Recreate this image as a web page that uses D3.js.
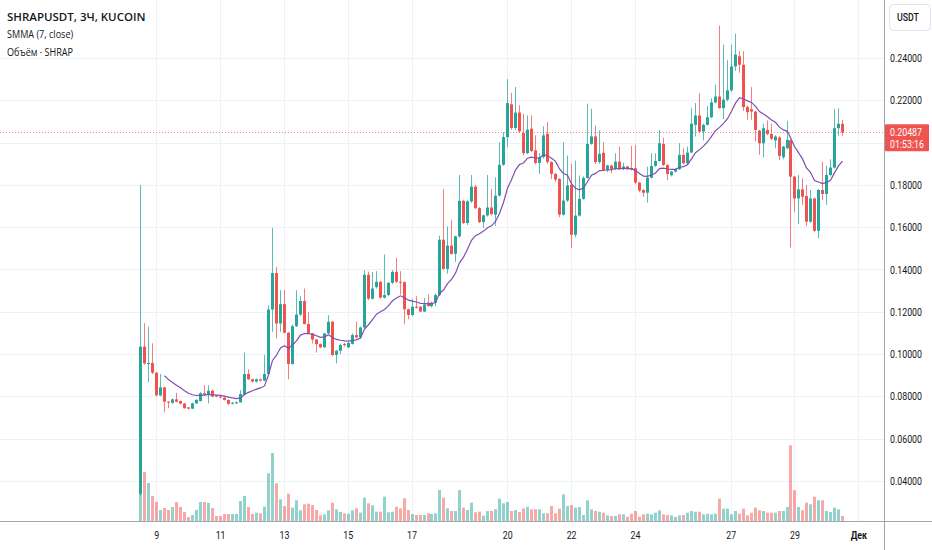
<!DOCTYPE html>
<html><head><meta charset="utf-8">
<script src="https://cdn.jsdelivr.net/npm/d3@7/dist/d3.min.js"></script>
<style>
html,body{margin:0;padding:0;background:#fff;}
svg{display:block;}
</style></head><body>
<svg id="chart" width="932" height="550"></svg>
<script>
const opens = [0.0340,0.1035,0.0956,0.0958,0.0912,0.0805,0.0843,0.0775,0.0770,0.0786,0.0778,0.0766,0.0748,0.0742,0.0767,0.0778,0.0815,0.0808,0.0827,0.0805,0.0799,0.0794,0.0783,0.0765,0.0767,0.0772,0.0808,0.0906,0.0881,0.0870,
0.0881,0.0875,0.0906,0.1211,0.1383,0.1145,0.1236,0.1101,0.0953,0.1132,0.1187,0.1251,0.1142,0.1098,0.1069,0.1047,0.1032,0.1098,0.1153,0.0996,0.1016,0.1048,0.1032,0.1048,0.1090,0.1079,0.1126,0.1375,0.1262,0.1317,
0.1342,0.1267,0.1279,0.1337,0.1389,0.1342,0.1340,0.1212,0.1185,0.1224,0.1224,0.1201,0.1243,0.1227,0.1243,0.1279,0.1541,0.1403,0.1513,0.1474,0.1557,0.1725,0.1620,0.1722,0.1792,0.1690,0.1624,0.1656,0.1693,0.1659,
0.1749,0.1895,0.2026,0.2181,0.2069,0.2142,0.2045,0.1950,0.2066,0.1963,0.1904,0.1931,0.2042,0.1908,0.1852,0.1828,0.1659,0.1726,0.1801,0.1564,0.1655,0.1734,0.1833,0.1994,0.2029,0.1908,0.1952,0.1871,0.1892,0.1875,
0.1910,0.1874,0.1887,0.1880,0.1879,0.1811,0.1776,0.1763,0.1834,0.1890,0.1913,0.1994,0.1894,0.1846,0.1863,0.1874,0.1942,0.1902,0.1953,0.2084,0.2128,0.2052,0.2084,0.2120,0.2190,0.2218,0.2163,0.2203,0.2247,0.2360,
0.2408,0.2368,0.2168,0.2158,0.2147,0.2057,0.1997,0.2060,0.2041,0.2010,0.2024,0.1931,0.1973,0.2010,0.1839,0.1736,0.1779,0.1747,0.1626,0.1736,0.1583,0.1776,0.1757,0.1847,0.1882,0.2068,0.2089];
const highs = [0.1800,0.1146,0.1130,0.1051,0.0915,0.0906,0.0846,0.0778,0.0790,0.0817,0.0781,0.0770,0.0750,0.0770,0.0788,0.0820,0.0853,0.0853,0.0832,0.0808,0.0802,0.0797,0.0786,0.0774,0.0776,0.0830,0.1007,0.0928,0.0884,0.0885,
0.0884,0.0996,0.1231,0.1597,0.1412,0.1302,0.1302,0.1105,0.1140,0.1302,0.1273,0.1310,0.1200,0.1100,0.1072,0.1050,0.1100,0.1184,0.1156,0.1020,0.1050,0.1052,0.1058,0.1098,0.1153,0.1130,0.1396,0.1390,0.1388,0.1392,
0.1345,0.1471,0.1340,0.1397,0.1455,0.1392,0.1345,0.1215,0.1260,0.1274,0.1228,0.1265,0.1282,0.1248,0.1285,0.1560,0.1781,0.1604,0.1635,0.1560,0.1847,0.1730,0.1730,0.1847,0.1800,0.1695,0.1660,0.1847,0.1780,0.1836,
0.2002,0.2050,0.2300,0.2235,0.2263,0.2177,0.2137,0.2129,0.2129,0.2034,0.1950,0.2077,0.2097,0.1912,0.1856,0.1832,0.2002,0.1939,0.1900,0.1915,0.1845,0.1840,0.2184,0.2160,0.2081,0.2058,0.2002,0.1895,0.1895,0.1950,
0.1981,0.1905,0.1890,0.1984,0.1989,0.1815,0.1780,0.1886,0.1950,0.1950,0.2060,0.2023,0.1897,0.1866,0.1878,0.1997,0.1973,0.1981,0.2163,0.2187,0.2234,0.2090,0.2174,0.2210,0.2274,0.2553,0.2463,0.2390,0.2463,0.2515,
0.2432,0.2432,0.2175,0.2263,0.2150,0.2060,0.2089,0.2105,0.2089,0.2035,0.2030,0.1985,0.2103,0.2015,0.1842,0.1847,0.1831,0.1800,0.1776,0.1740,0.1780,0.1910,0.1890,0.1921,0.2158,0.2163,0.2108];
const lows = [0.0330,0.0950,0.0867,0.0905,0.0800,0.0800,0.0725,0.0744,0.0765,0.0772,0.0762,0.0742,0.0738,0.0740,0.0764,0.0776,0.0805,0.0767,0.0796,0.0796,0.0791,0.0780,0.0760,0.0762,0.0764,0.0770,0.0805,0.0878,0.0866,0.0866,
0.0870,0.0872,0.0900,0.1105,0.1074,0.1105,0.1098,0.0881,0.0950,0.1128,0.1180,0.1140,0.1095,0.1050,0.1007,0.1028,0.1030,0.1095,0.0990,0.0956,0.1000,0.1035,0.1028,0.1045,0.1075,0.1075,0.1120,0.1255,0.1258,0.1310,
0.1262,0.1262,0.1275,0.1330,0.1335,0.1282,0.1141,0.1165,0.1180,0.1215,0.1198,0.1198,0.1224,0.1220,0.1227,0.1275,0.1400,0.1380,0.1470,0.1436,0.1550,0.1615,0.1610,0.1715,0.1685,0.1620,0.1596,0.1650,0.1655,0.1607,
0.1745,0.1890,0.1979,0.2060,0.2060,0.2045,0.1940,0.1945,0.1955,0.1898,0.1852,0.1925,0.1900,0.1828,0.1815,0.1647,0.1655,0.1720,0.1501,0.1552,0.1650,0.1730,0.1830,0.1990,0.1900,0.1900,0.1865,0.1860,0.1855,0.1870,
0.1870,0.1870,0.1870,0.1868,0.1805,0.1765,0.1744,0.1716,0.1830,0.1885,0.1910,0.1890,0.1823,0.1840,0.1858,0.1870,0.1898,0.1898,0.1950,0.2029,0.2048,0.2010,0.2080,0.2115,0.2185,0.2160,0.2110,0.2195,0.2240,0.2340,
0.2330,0.2150,0.2108,0.2108,0.2005,0.1942,0.1931,0.2035,0.2012,0.1973,0.1918,0.1921,0.1970,0.1504,0.1673,0.1615,0.1705,0.1605,0.1620,0.1578,0.1547,0.1728,0.1705,0.1840,0.1878,0.2032,0.2032];
const closes = [0.1035,0.0956,0.0958,0.0912,0.0805,0.0843,0.0775,0.0770,0.0786,0.0775,0.0766,0.0744,0.0742,0.0767,0.0783,0.0815,0.0808,0.0827,0.0799,0.0799,0.0794,0.0783,0.0765,0.0770,0.0772,0.0811,0.0906,0.0881,0.0870,0.0881,
0.0875,0.0906,0.1211,0.1383,0.1145,0.1236,0.1101,0.0953,0.1132,0.1187,0.1251,0.1142,0.1098,0.1069,0.1047,0.1032,0.1098,0.1153,0.0996,0.1016,0.1043,0.1043,0.1053,0.1090,0.1079,0.1126,0.1375,0.1262,0.1310,0.1342,
0.1267,0.1279,0.1337,0.1389,0.1342,0.1340,0.1212,0.1185,0.1224,0.1222,0.1201,0.1235,0.1227,0.1243,0.1279,0.1541,0.1403,0.1513,0.1474,0.1557,0.1725,0.1620,0.1722,0.1792,0.1690,0.1624,0.1656,0.1693,0.1662,0.1749,
0.1895,0.2026,0.2187,0.2069,0.2142,0.2053,0.1950,0.2061,0.1960,0.1904,0.1931,0.2034,0.1908,0.1852,0.1825,0.1659,0.1726,0.1797,0.1564,0.1655,0.1734,0.1833,0.1994,0.2029,0.1908,0.1947,0.1871,0.1892,0.1876,0.1910,
0.1874,0.1887,0.1874,0.1872,0.1811,0.1773,0.1763,0.1834,0.1890,0.1913,0.1997,0.1894,0.1852,0.1863,0.1874,0.1942,0.1902,0.1953,0.2089,0.2128,0.2052,0.2084,0.2120,0.2190,0.2218,0.2163,0.2203,0.2247,0.2360,0.2416,
0.2368,0.2168,0.2144,0.2147,0.2060,0.1997,0.2068,0.2041,0.2018,0.2029,0.1937,0.1981,0.2013,0.1839,0.1736,0.1779,0.1744,0.1626,0.1736,0.1583,0.1776,0.1757,0.1847,0.1882,0.2068,0.2089,0.20487];
const volumes = [40,49,38,25,19,11,13,11,14,19,14,9,4,6,11,19,19,18,13,5,5,7,7,7,7,20,25,14,7,
8.3,7.7,14.3,47.7,68,37.7,21.7,15,27.3,13.3,20.7,10.7,16.7,17.3,16,11,5.7,6.7,10.7,18.3,11.7,9,7.7,7.3,10.7,12.7,8.3,23.3,17.7,15.7,
9.3,9.3,24.3,8.7,9.3,14.3,12.7,22.7,11,7,6,6,6,7.7,7,7.7,31,23.3,12.7,10,10,31,13.3,11,18.3,8.7,9.3,5.3,10,10,
11.7,22.3,17.7,19,10,11,9,12.7,14.3,11.7,11.7,11.7,7.7,7.7,15,7.7,12.3,26.7,15,16,13.3,14,6,20.7,11.7,10,9.3,8.3,5.7,5,
5,6.7,6.7,4.3,7.3,10,4.3,6.7,7.3,6.7,8.3,10.7,6.7,6,5.7,4,5.7,6,8.3,10,9.3,9.3,6.7,7.3,6.7,7.3,22.3,12.3,12.3,
6.7,10,7.3,12.3,5.7,8.3,13.3,10.7,10,8.3,8.3,8.3,10,10,14,75.7,30.7,14,10.7,18.3,16.7,24.3,20.7,20.7,10,9,13.3,11.7,5];

const startTime = new Date(2023, 10, 8, 12, 0, 0);
const candleHours = 3;
const priceTicks = [0.04, 0.06, 0.08, 0.10, 0.12, 0.14, 0.16, 0.18, 0.20, 0.22, 0.24];
const timeTickDates = [new Date(2023,10,9), new Date(2023,10,11), new Date(2023,10,13), new Date(2023,10,15), new Date(2023,10,17),
  new Date(2023,10,20), new Date(2023,10,22), new Date(2023,10,24), new Date(2023,10,27), new Date(2023,10,29), new Date(2023,11,1)];
const timeTickLabels = ["9","11","13","15","17","20","22","24","27","29","Дек"];
const legendLines = ["SHRAPUSDT, 3Ч, KUCOIN", "SMMA (7, close)", "Объём · SHRAP"];
const currencyLabel = "USDT";
const lastPrice = 0.20487;
const countdown = "01:53:16";
const smmaLength = 7;

const UP = "#26a69a", DOWN = "#ef5350";
const plotRight = 884, plotBottom = 521;
const NARROW = 0.8;
const svg = d3.select("#chart");
svg.append("rect").attr("width", 932).attr("height", 550).attr("fill", "#fff");

function squeeze(sel, k) {
  sel.each(function () {
    const w = this.getComputedTextLength();
    d3.select(this).attr("textLength", w * k).attr("lengthAdjust", "spacingAndGlyphs");
  });
}

const x = d3.scaleTime().domain([startTime, new Date(2023, 11, 1)]).range([140.3, 858.3]);
const y = d3.scaleLinear().domain([0.04, 0.24]).range([481, 58]);
const yVol = d3.scaleLinear().domain([0, 100]).range([plotBottom, plotBottom - 100]);

const candles = opens.map((o, i) => ({
  t: d3.timeHour.offset(startTime, candleHours * i),
  o, h: highs[i], l: lows[i], c: closes[i], v: volumes[i]
}));

const plot = svg.append("g");
plot.append("g").selectAll("line").data(priceTicks).join("line")
  .attr("x1", 0).attr("x2", plotRight)
  .attr("y1", d => Math.round(y(d)) + 0.5).attr("y2", d => Math.round(y(d)) + 0.5)
  .attr("stroke", "#eef1f6").attr("stroke-width", 1);
plot.append("g").selectAll("line").data(timeTickDates).join("line")
  .attr("x1", d => Math.round(x(d)) + 0.5).attr("x2", d => Math.round(x(d)) + 0.5)
  .attr("y1", 0).attr("y2", plotBottom)
  .attr("stroke", "#eef1f6").attr("stroke-width", 1);

plot.append("g").selectAll("rect").data(candles).join("rect")
  .attr("x", d => Math.round(x(d.t)) - 1)
  .attr("width", 3)
  .attr("y", d => yVol(d.v))
  .attr("height", d => plotBottom - yVol(d.v))
  .attr("fill", d => d.c >= d.o ? UP : DOWN)
  .attr("fill-opacity", 0.5);

plot.append("line")
  .attr("x1", 0).attr("x2", plotRight)
  .attr("y1", Math.round(y(lastPrice)) + 0.5).attr("y2", Math.round(y(lastPrice)) + 0.5)
  .attr("stroke", DOWN).attr("stroke-opacity", 0.7).attr("stroke-dasharray", "1,2");

const cg = plot.append("g");
cg.selectAll("line").data(candles).join("line")
  .attr("x1", d => Math.round(x(d.t)) + 0.5).attr("x2", d => Math.round(x(d.t)) + 0.5)
  .attr("y1", d => y(d.h)).attr("y2", d => y(d.l))
  .attr("stroke", d => d.c >= d.o ? UP : DOWN).attr("stroke-opacity", 0.75).attr("stroke-width", 1);
cg.selectAll("rect").data(candles).join("rect")
  .attr("x", d => Math.round(x(d.t)) - 1)
  .attr("width", 3)
  .attr("y", d => y(Math.max(d.o, d.c)))
  .attr("height", d => Math.max(1, y(Math.min(d.o, d.c)) - y(Math.max(d.o, d.c))))
  .attr("fill", d => d.c >= d.o ? UP : DOWN);

// SMMA(7) of the closes
const smma = [];
let prev = null;
closes.forEach((c, i) => {
  if (i < smmaLength - 1) return;
  prev = prev === null ? d3.mean(closes.slice(0, smmaLength)) : (prev * (smmaLength - 1) + c) / smmaLength;
  smma.push({ t: candles[i].t, v: prev });
});
plot.append("path").datum(smma)
  .attr("d", d3.line().x(d => Math.round(x(d.t)) + 0.5).y(d => y(d.v)))
  .attr("fill", "none").attr("stroke", "#7e4fb0").attr("stroke-width", 1.2);

svg.append("line").attr("x1", plotRight + 0.5).attr("x2", plotRight + 0.5).attr("y1", 0).attr("y2", 550)
  .attr("stroke", "#a3a6af");
svg.append("line").attr("x1", 0).attr("x2", 932).attr("y1", plotBottom + 0.5).attr("y2", plotBottom + 0.5)
  .attr("stroke", "#a3a6af");

const axisFont = "Roboto, sans-serif";
const ly = y(lastPrice);
const boxTop = ly - 8, boxBottom = ly + 19;
// price axis (labels hidden behind the last-price tag are skipped, as in the original)
const visibleTicks = priceTicks.filter(p => y(p) + 6 < boxTop || y(p) - 6 > boxBottom);
const yAxis = svg.append("g").attr("transform", `translate(${plotRight + 1},0)`)
  .call(d3.axisRight(y).tickValues(visibleTicks).tickFormat(d3.format(".5f")).tickSize(0).tickPadding(5));
yAxis.select(".domain").remove();
yAxis.selectAll("text").attr("font-family", axisFont).attr("font-size", 11).attr("fill", "#131722");
squeeze(yAxis.selectAll("text"), NARROW);

const xAxis = svg.append("g").attr("transform", `translate(0,${plotBottom + 1})`)
  .call(d3.axisBottom(x).tickValues(timeTickDates).tickFormat((d, i) => timeTickLabels[i]).tickSize(0).tickPadding(9));
xAxis.select(".domain").remove();
xAxis.selectAll("text").attr("font-family", axisFont).attr("font-size", 11).attr("fill", "#131722")
  .attr("font-weight", (d, i) => timeTickLabels[i] === "Дек" ? "bold" : "normal");
squeeze(xAxis.selectAll("text"), NARROW);

svg.append("rect").attr("x", 889.5).attr("y", 4.5).attr("width", 41).attr("height", 26).attr("rx", 4)
  .attr("fill", "#fff").attr("stroke", "#e0e3eb");
const cur = svg.append("text").attr("x", 908).attr("y", 21).attr("text-anchor", "middle")
  .attr("font-family", axisFont).attr("font-size", 11).attr("font-weight", 500).attr("fill", "#131722")
  .text(currencyLabel);
squeeze(cur, NARROW);

svg.append("rect").attr("x", 885).attr("y", boxTop).attr("width", 44).attr("height", boxBottom - boxTop).attr("rx", 1)
  .attr("fill", DOWN);
const lp = svg.append("text").attr("x", 890).attr("y", ly + 4).attr("font-family", axisFont).attr("font-size", 11)
  .attr("fill", "#fff").text(d3.format(".5f")(lastPrice));
const cd = svg.append("text").attr("x", 890).attr("y", ly + 15.5).attr("font-family", axisFont).attr("font-size", 11)
  .attr("fill", "#fff").text(countdown);
squeeze(lp, NARROW);
squeeze(cd, NARROW);

const legend = svg.append("g").attr("font-family", "'Open Sans', sans-serif").attr("fill", "#131722");
const lt = legend.selectAll("text").data(legendLines).join("text")
  .attr("x", 7).attr("y", (d, i) => 21 + i * 17.3)
  .attr("font-size", 11.5)
  .attr("font-weight", (d, i) => i === 0 ? 600 : 400)
  .text(d => d);
squeeze(lt.filter((d, i) => i > 0), 0.79);
</script>
</body></html>
